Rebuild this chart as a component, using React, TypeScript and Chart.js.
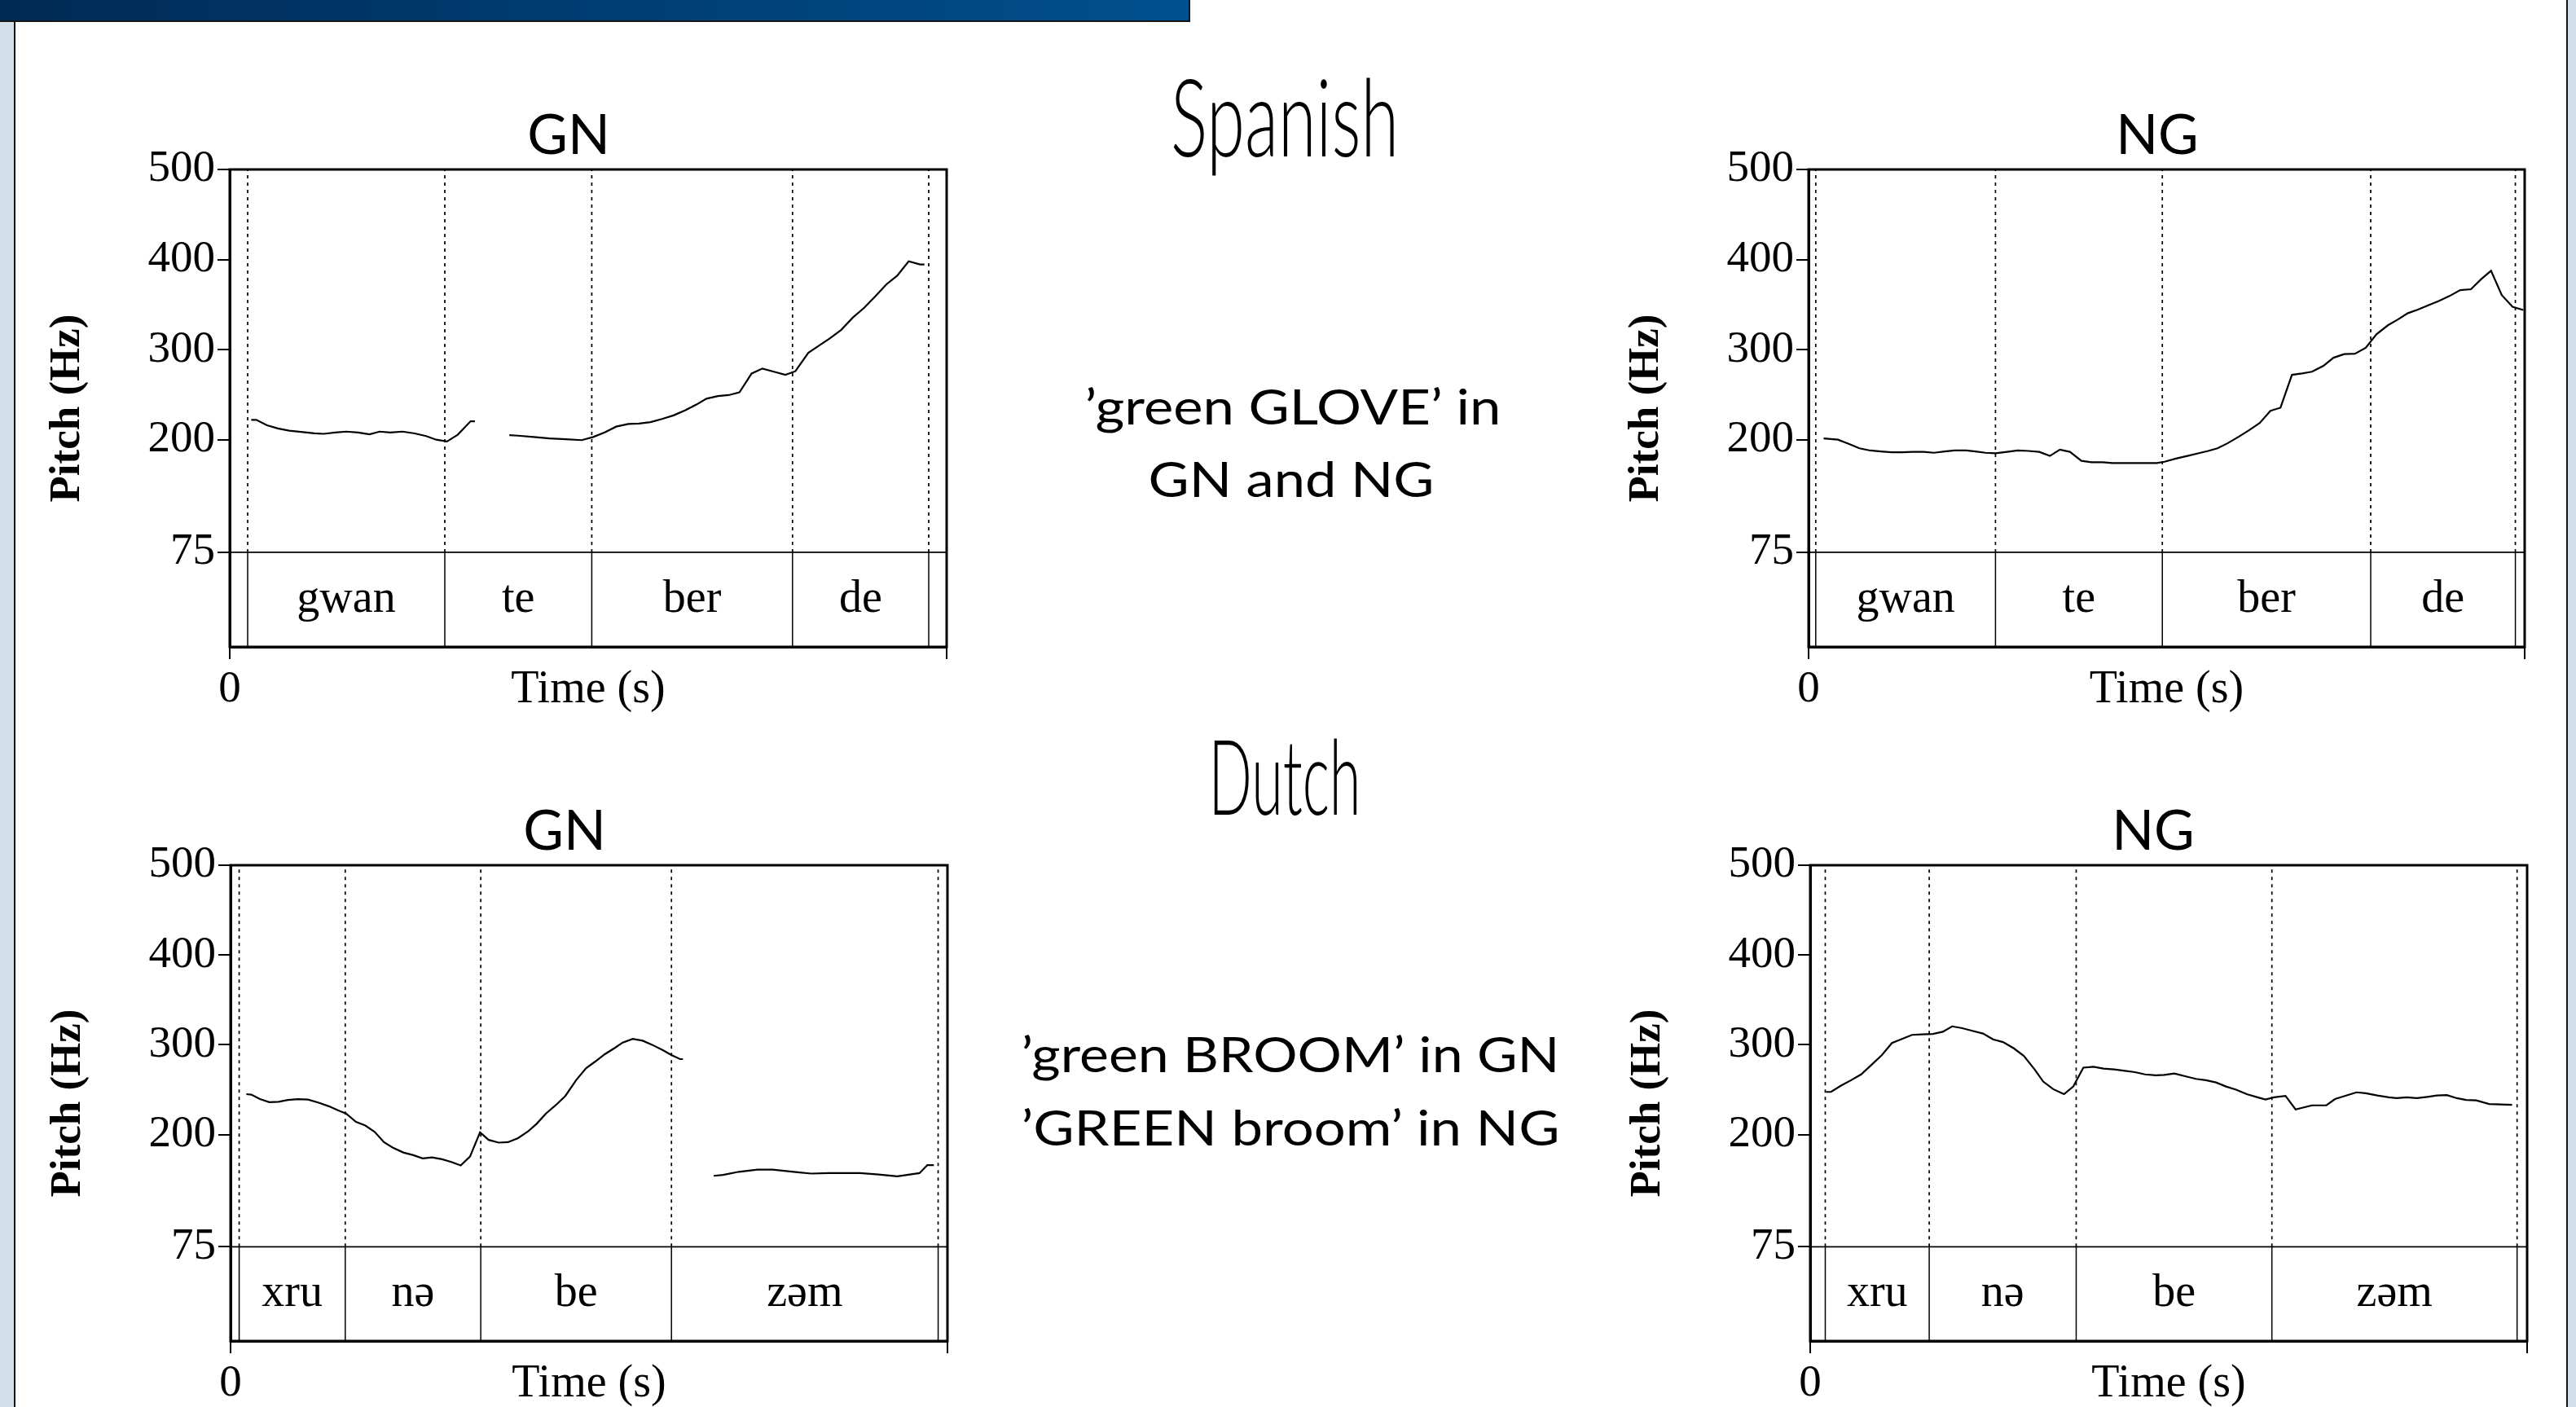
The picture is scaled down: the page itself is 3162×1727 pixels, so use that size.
import React, { useEffect, useRef } from "react";
import { Chart, registerables } from "chart.js";

Chart.register(...registerables);

// ---------------- data ----------------
const PITCH_TICKS = [75, 200, 300, 400, 500];
const PITCH_MAX = 500;
const TIER_TOP = 75;
const TIER_FLOOR = -30;
const DURATION = 1;

const spanishSyllables = ["gwan", "te", "ber", "de"];
const dutchSyllables = ["xru", "nə", "be", "zəm"];

// Spanish GN
const esGnBounds = [0.025, 0.3, 0.505, 0.785, 0.975];
const esGnTime = [
  0.03, 0.037, 0.052, 0.067, 0.083, 0.102, 0.118, 0.131, 0.147, 0.163, 0.179, 0.195, 0.209, 0.224, 0.241,
  0.258, 0.274, 0.288, 0.303, 0.318, 0.336, 0.342, 0.366, 0.39, 0.402, 0.424, 0.446, 0.469, 0.491, 0.507,
  0.523, 0.539, 0.556, 0.571, 0.587, 0.603, 0.619, 0.635, 0.651, 0.665, 0.681, 0.696, 0.711, 0.728, 0.743,
  0.759, 0.775, 0.789, 0.807, 0.823, 0.837, 0.853, 0.869, 0.885, 0.901, 0.916, 0.931, 0.947, 0.963, 0.969,
];
const esGnPitch = [
  222, 222, 216, 212.5, 210, 208.5, 207, 206.5, 208, 209, 208, 206, 209, 208, 209,
  207, 204, 200, 198, 205.5, 220.5, 220.5, null, 205, 204.5, 203, 201.5, 200.5, 199.5, 203,
  208, 214.5, 217.5, 218, 219.5, 223, 227, 232.5, 239, 245.5, 248.5, 249.5, 252.5, 273.5, 279,
  275.5, 272, 276, 296.5, 305, 312.5, 322, 335.5, 346.5, 359.5, 372.5, 382, 398, 394.5, 394.5,
];

// Spanish NG
const esNgBounds = [0.01, 0.261, 0.494, 0.785, 0.987];
const esNgTime = [
  0.021, 0.041, 0.056, 0.071, 0.086, 0.101, 0.116, 0.131, 0.145, 0.161, 0.175, 0.19, 0.204, 0.22, 0.233,
  0.247, 0.261, 0.277, 0.292, 0.307, 0.322, 0.337, 0.351, 0.365, 0.381, 0.395, 0.411, 0.424, 0.44, 0.456,
  0.472, 0.486, 0.497, 0.513, 0.529, 0.545, 0.558, 0.571, 0.585, 0.601, 0.615, 0.63, 0.645, 0.659, 0.675,
  0.689, 0.703, 0.719, 0.733, 0.748, 0.763, 0.778, 0.793, 0.809, 0.823, 0.837, 0.851, 0.866, 0.88, 0.895,
  0.91, 0.925, 0.939, 0.953, 0.968, 0.983, 0.998,
];
const esNgPitch = [
  201.5, 200, 195.5, 190.5, 188, 187, 186, 186, 186.5, 186.5, 185.5, 187, 188, 188, 187,
  185.5, 185, 186.5, 188, 187.5, 186.5, 182, 189, 186.5, 176.5, 175, 175, 174, 174, 174,
  174, 174, 175.5, 179, 182, 185, 187.5, 190.5, 196, 203.5, 210.5, 218.5, 232, 235.5, 272,
  273.5, 275.5, 282, 291, 295, 295.5, 302, 317, 327, 333.5, 340.5, 344.5, 349.5, 354, 359.5,
  366, 367, 378, 387.5, 360.5, 347.5, 344,
];

// Dutch GN
const nlGnBounds = [0.012, 0.16, 0.349, 0.615, 0.987];
const nlGnTime = [
  0.022, 0.029, 0.041, 0.054, 0.067, 0.08, 0.094, 0.108, 0.123, 0.137, 0.153, 0.161, 0.175, 0.188, 0.201,
  0.214, 0.226, 0.241, 0.255, 0.268, 0.281, 0.295, 0.308, 0.321, 0.334, 0.348, 0.36, 0.374, 0.387, 0.401,
  0.415, 0.427, 0.44, 0.454, 0.467, 0.482, 0.496, 0.509, 0.522, 0.536, 0.547, 0.561, 0.575, 0.588, 0.603,
  0.615, 0.627, 0.631, 0.65, 0.674, 0.687, 0.709, 0.735, 0.756, 0.791, 0.81, 0.835, 0.878, 0.904, 0.93,
  0.961, 0.972, 0.981,
];
const nlGnPitch = [
  245, 244.5, 239.5, 236, 236.5, 238.5, 239.5, 239, 235.5, 231.5, 226, 223.5, 214, 210, 203,
  191.5, 185.5, 180, 177, 173.5, 174.5, 172.5, 169.5, 165.5, 175.5, 202.5, 194, 191, 191.5, 196,
  203.5, 212, 223.5, 233, 243, 260.5, 274, 281.5, 289.5, 296.5, 302.5, 306.5, 304.5, 300, 294,
  288.5, 284, 284, null, 154, 155, 158.5, 161, 161, 158, 156.5, 157, 157, 155.5, 153.5,
  157, 166, 166,
];

// Dutch NG
const nlNgBounds = [0.021, 0.166, 0.371, 0.644, 0.986];
const nlNgTime = [
  0.022, 0.029, 0.043, 0.057, 0.071, 0.086, 0.1, 0.114, 0.128, 0.142, 0.156, 0.171, 0.185, 0.198, 0.212,
  0.226, 0.241, 0.255, 0.269, 0.284, 0.298, 0.313, 0.325, 0.339, 0.354, 0.367, 0.381, 0.395, 0.409, 0.424,
  0.439, 0.453, 0.467, 0.482, 0.494, 0.508, 0.523, 0.538, 0.552, 0.566, 0.58, 0.594, 0.609, 0.624, 0.635,
  0.647, 0.663, 0.677, 0.7, 0.72, 0.732, 0.762, 0.775, 0.791, 0.807, 0.818, 0.832, 0.846, 0.861, 0.874,
  0.888, 0.902, 0.915, 0.929, 0.947, 0.979,
];
const nlNgPitch = [
  247.5, 247.5, 254.5, 260.5, 267, 278, 288.5, 302, 306.5, 311, 311.5, 312, 314.5, 320.5, 318.5,
  315.5, 312.5, 306, 303, 296, 287.5, 272.5, 259, 250.5, 245, 253.5, 274.5, 275.5, 273.5, 272.5,
  271, 269.5, 267, 266, 266.5, 268, 265, 262, 260.5, 258, 253.5, 250, 245, 241.5, 239,
  241.5, 243, 228, 232.5, 232.5, 239.5, 247, 246, 243.5, 241.5, 240.5, 241.5, 240.5, 242, 243.5,
  244, 240.5, 238.5, 238, 234, 233,
];

// ---------------- layout ----------------
const SERIF = '"Liberation Serif", "Times New Roman", serif';
const SANS = 'Lato, "Open Sans", sans-serif';
const Y_AXIS_W = 262;
const PAD_TOP = 108;
const PAD_RIGHT = 20;
const X_AXIS_H = 96;

type Box = { left: number; top: number; width: number; height: number; titleX: number };

const praatExtras = {
  id: "praatExtras",
  afterDraw(chart: any, _args: any, opts: any) {
    const { ctx, chartArea: a, scales } = chart;
    const x = scales.x;
    const y = scales.y;
    ctx.save();
    ctx.strokeStyle = "#000";
    ctx.lineWidth = 3;
    ctx.strokeRect(a.left, a.top, a.right - a.left, a.bottom - a.top);
    ctx.fillStyle = "#000";
    ctx.font = `56px ${SERIF}`;
    ctx.textAlign = "center";
    ctx.textBaseline = "middle";
    const yMid = (y.getPixelForValue(TIER_TOP) + y.getPixelForValue(TIER_FLOOR)) / 2;
    const b: number[] = opts.bounds;
    (opts.syllables as string[]).forEach((s, i) => {
      const xm = (x.getPixelForValue(b[i]) + x.getPixelForValue(b[i + 1])) / 2;
      ctx.fillText(s, xm, yMid);
    });
    ctx.font = `68px ${SANS}`;
    ctx.textBaseline = "alphabetic";
    ctx.fillText(opts.title, opts.titleX, a.top - 19);
    ctx.restore();
  },
};

function PitchPanel(props: {
  title: string;
  time: number[];
  pitch: (number | null)[];
  bounds: number[];
  syllables: string[];
  box: Box;
}) {
  const { title, time, pitch, bounds, syllables, box } = props;
  const ref = useRef<HTMLCanvasElement>(null);
  const cLeft = box.left - Y_AXIS_W;
  const cTop = box.top - PAD_TOP;
  const cW = Y_AXIS_W + box.width + PAD_RIGHT;
  const cH = PAD_TOP + box.height + X_AXIS_H;

  useEffect(() => {
    if (!ref.current) return;
    const datasets: any[] = [];
    bounds.forEach((b) => {
      datasets.push({
        data: [{ x: b, y: TIER_TOP }, { x: b, y: PITCH_MAX }],
        borderColor: "#000",
        borderWidth: 1.7,
        borderDash: [4, 5],
        pointRadius: 0,
      });
      datasets.push({
        data: [{ x: b, y: TIER_FLOOR }, { x: b, y: TIER_TOP }],
        borderColor: "#000",
        borderWidth: 1.5,
        pointRadius: 0,
      });
    });
    datasets.push({
      data: [{ x: 0, y: TIER_TOP }, { x: DURATION, y: TIER_TOP }],
      borderColor: "#000",
      borderWidth: 1.8,
      pointRadius: 0,
    });
    const n = Math.min(time.length, pitch.length);
    const pts = [];
    for (let i = 0; i < n; i++) pts.push({ x: time[i], y: pitch[i] });
    datasets.push({
      label: "F0",
      data: pts,
      borderColor: "#000",
      borderWidth: 2.2,
      pointRadius: 0,
      spanGaps: false,
      tension: 0,
    });

    const chart = new Chart(ref.current, {
      type: "line",
      data: { datasets },
      plugins: [praatExtras as any],
      options: {
        animation: false,
        responsive: false,
        maintainAspectRatio: false,
        devicePixelRatio: 1,
        events: [],
        layout: { padding: { top: PAD_TOP, right: PAD_RIGHT, bottom: 0, left: 0 } },
        plugins: {
          legend: { display: false },
          tooltip: { enabled: false },
          title: { display: false },
          praatExtras: { bounds, syllables, title, titleX: box.titleX - cLeft },
        } as any,
        scales: {
          x: {
            type: "linear",
            min: 0,
            max: DURATION,
            afterBuildTicks: (s: any) => {
              s.ticks = [{ value: 0 }, { value: DURATION }];
            },
            afterFit: (s: any) => {
              s.height = X_AXIS_H;
            },
            ticks: {
              autoSkip: false,
              maxRotation: 0,
              padding: 5,
              color: "#000",
              font: { family: SERIF, size: 55 },
              callback: (v: any) => (v === 0 ? "0" : ""),
            },
            grid: { drawOnChartArea: false, drawTicks: true, tickLength: 15, color: "#000", lineWidth: 2 },
            border: { display: true, color: "#000", width: 3 },
            title: {
              display: true,
              text: "Time (s)",
              color: "#000",
              font: { family: SERIF, size: 56 },
              padding: { top: 0, bottom: 9 },
            },
          },
          y: {
            type: "linear",
            min: TIER_FLOOR,
            max: PITCH_MAX,
            afterBuildTicks: (s: any) => {
              s.ticks = PITCH_TICKS.map((v) => ({ value: v }));
            },
            afterFit: (s: any) => {
              s.width = Y_AXIS_W;
            },
            ticks: { autoSkip: false, padding: 3, color: "#000", font: { family: SERIF, size: 55 } },
            grid: { drawOnChartArea: false, drawTicks: true, tickLength: 15, color: "#000", lineWidth: 2 },
            border: { display: true, color: "#000", width: 3 },
            title: {
              display: true,
              text: "Pitch (Hz)",
              color: "#000",
              font: { family: SERIF, size: 53, weight: "bold" },
              padding: { top: 32, bottom: 0 },
            },
          },
        },
      } as any,
    });
    return () => chart.destroy();
  }, []);

  return (
    <canvas
      ref={ref}
      width={cW}
      height={cH}
      style={{ position: "absolute", left: cLeft, top: cTop, width: cW, height: cH }}
    />
  );
}

const panels = [
  { title: "GN", time: esGnTime, pitch: esGnPitch, bounds: esGnBounds, syllables: spanishSyllables, box: { left: 282, top: 208, width: 880, height: 586, titleX: 698 } },
  { title: "NG", time: esNgTime, pitch: esNgPitch, bounds: esNgBounds, syllables: spanishSyllables, box: { left: 2220, top: 208, width: 879, height: 586, titleX: 2648 } },
  { title: "GN", time: nlGnTime, pitch: nlGnPitch, bounds: nlGnBounds, syllables: dutchSyllables, box: { left: 283, top: 1062, width: 880, height: 584, titleX: 693 } },
  { title: "NG", time: nlNgTime, pitch: nlNgPitch, bounds: nlNgBounds, syllables: dutchSyllables, box: { left: 2222, top: 1062, width: 880, height: 584, titleX: 2643 } },
];

export default function App() {
  useEffect(() => {
    document.documentElement.style.overflow = "hidden";
    document.body.style.overflow = "hidden";
    document.body.style.margin = "0";
  }, []);
  return (
    <div
      style={{
        position: "fixed",
        left: 0,
        top: 0,
        width: 3162,
        height: 1727,
        background: "#fff",
        overflow: "hidden",
      }}
    >
      <div style={{ position: "absolute", left: 0, top: 0, width: 17, height: 1727, background: "#d3e0ea" }} />
      <div style={{ position: "absolute", left: 17, top: 0, width: 2, height: 1727, background: "#151515" }} />
      <div style={{ position: "absolute", left: 3150, top: 0, width: 2, height: 1727, background: "#151515" }} />
      <div style={{ position: "absolute", left: 3152, top: 0, width: 10, height: 1727, background: "#d3e0ea" }} />
      <div
        style={{
          position: "absolute",
          left: 0,
          top: 0,
          width: 1459,
          height: 25,
          background: "linear-gradient(to right, #002a55, #00508f)",
          borderRight: "2px solid #151515",
          borderBottom: "2px solid #151515",
        }}
      />
      {panels.map((p, i) => (
        <PitchPanel key={i} {...p} />
      ))}
      <svg
        width={3162}
        height={1727}
        style={{ position: "absolute", left: 0, top: 0, pointerEvents: "none" }}
      >
        <g fill="#000" fontFamily={SANS}>
          <text x={1577} y={192} textAnchor="middle" fontWeight={300} fontSize={133} textLength={280} lengthAdjust="spacingAndGlyphs">
            Spanish
          </text>
          <text x={1587} y={521} textAnchor="middle" fontSize={60} textLength={511} lengthAdjust="spacingAndGlyphs">
            ’green GLOVE’ in
          </text>
          <text x={1585} y={610} textAnchor="middle" fontSize={60} textLength={351} lengthAdjust="spacingAndGlyphs">
            GN and NG
          </text>
          <text x={1577} y={1000} textAnchor="middle" fontWeight={300} fontSize={128} textLength={187} lengthAdjust="spacingAndGlyphs">
            Dutch
          </text>
          <text x={1584} y={1316} textAnchor="middle" fontSize={60} textLength={661} lengthAdjust="spacingAndGlyphs">
            ’green BROOM’ in GN
          </text>
          <text x={1584} y={1406} textAnchor="middle" fontSize={60} textLength={661} lengthAdjust="spacingAndGlyphs">
            ’GREEN broom’ in NG
          </text>
        </g>
      </svg>
    </div>
  );
}
